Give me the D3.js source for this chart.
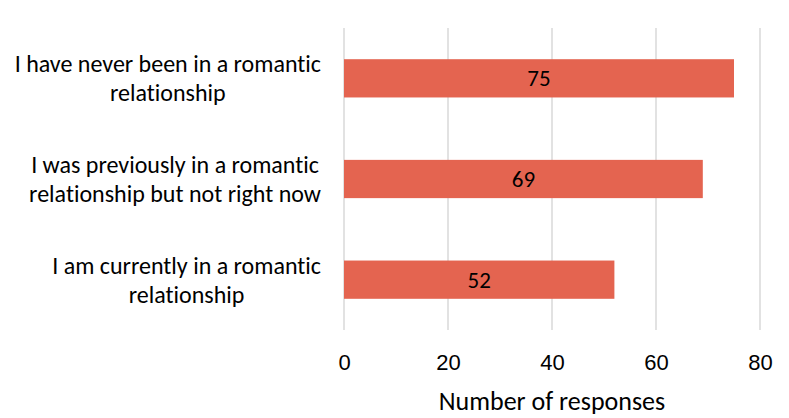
<!DOCTYPE html>
<html>
<head>
<meta charset="utf-8">
<script src="https://cdn.jsdelivr.net/npm/d3@7"></script>
<style>
  html, body { margin: 0; padding: 0; background: #ffffff; }
  svg { display: block; font-family: Carlito, Calibri, Lato, "Open Sans", sans-serif; font-variant-ligatures: none; }
</style>
</head>
<body>
<svg id="chart" width="789" height="418"></svg>
<script>
// Survey categories (top to bottom) and number of responses for each
const categories = [
  ["I have never been in a romantic", "relationship"],
  ["I was previously in a romantic", "relationship but not right now"],
  ["I am currently in a romantic", "relationship"]
];
const responses = [75, 69, 52];
const tickValues = [0, 20, 40, 60, 80];
const axisTitle = "Number of responses";

const svg = d3.select("#chart");
const margin = { left: 344, right: 29, top: 28, bottom: 88 };
const width = 789, height = 418;

const x = d3.scaleLinear().domain([0, 80]).range([margin.left, width - margin.right]);
const y = d3.scaleBand()
  .domain(d3.range(categories.length))
  .range([margin.top, height - margin.bottom])
  .paddingInner(0.62)
  .paddingOuter(0.31);

// vertical gridlines
svg.append("g")
  .selectAll("line")
  .data(tickValues)
  .join("line")
  .attr("x1", d => x(d)).attr("x2", d => x(d))
  .attr("y1", margin.top).attr("y2", height - margin.bottom)
  .attr("stroke", "#d9d9d9")
  .attr("stroke-width", 1.5);

// bars
svg.append("g")
  .selectAll("rect")
  .data(responses)
  .join("rect")
  .attr("x", x(0))
  .attr("y", (d, i) => y(i))
  .attr("width", d => x(d) - x(0))
  .attr("height", y.bandwidth())
  .attr("fill", "#e46450");

// value labels centred in each bar
svg.append("g")
  .selectAll("text")
  .data(responses)
  .join("text")
  .attr("x", d => (x(0) + x(d)) / 2)
  .attr("y", (d, i) => y(i) + y.bandwidth() / 2)
  .attr("dy", "0.35em")
  .attr("text-anchor", "middle")
  .attr("font-size", 23)
  .attr("fill", "#000")
  .text(d => d);

// category labels: each two-line block is centred on itself and
// its widest line ends just left of the plot
const labelRight = 321;
const catG = svg.append("g");
categories.forEach((lines, i) => {
  const cy = y(i) + y.bandwidth() / 2;
  const t = catG.append("text")
    .attr("text-anchor", "middle")
    .attr("font-size", 24)
    .attr("fill", "#000");
  const spans = lines.map((ln, j) => t.append("tspan")
    .attr("y", cy + (j - 0.5) * 29)
    .attr("dy", "0.35em")
    .text(ln));
  const widest = d3.max(spans, s => s.node().getComputedTextLength());
  spans.forEach(s => s.attr("x", labelRight - widest / 2));
});

// x axis tick labels
const axis = d3.axisBottom(x).tickValues(tickValues).tickSize(0).tickPadding(0);
const axG = svg.append("g")
  .attr("transform", `translate(0, ${height - margin.bottom})`)
  .call(axis);
axG.select(".domain").remove();
axG.selectAll("text")
  .attr("font-family", null)
  .attr("font-size", 22)
  .attr("fill", "#000")
  .attr("y", 32)
  .attr("dy", "0.35em");

// axis title
svg.append("text")
  .attr("x", (x(0) + x(80)) / 2)
  .attr("y", 401)
  .attr("dy", "0.35em")
  .attr("text-anchor", "middle")
  .attr("font-size", 26)
  .attr("fill", "#000")
  .text(axisTitle);
</script>
</body>
</html>
